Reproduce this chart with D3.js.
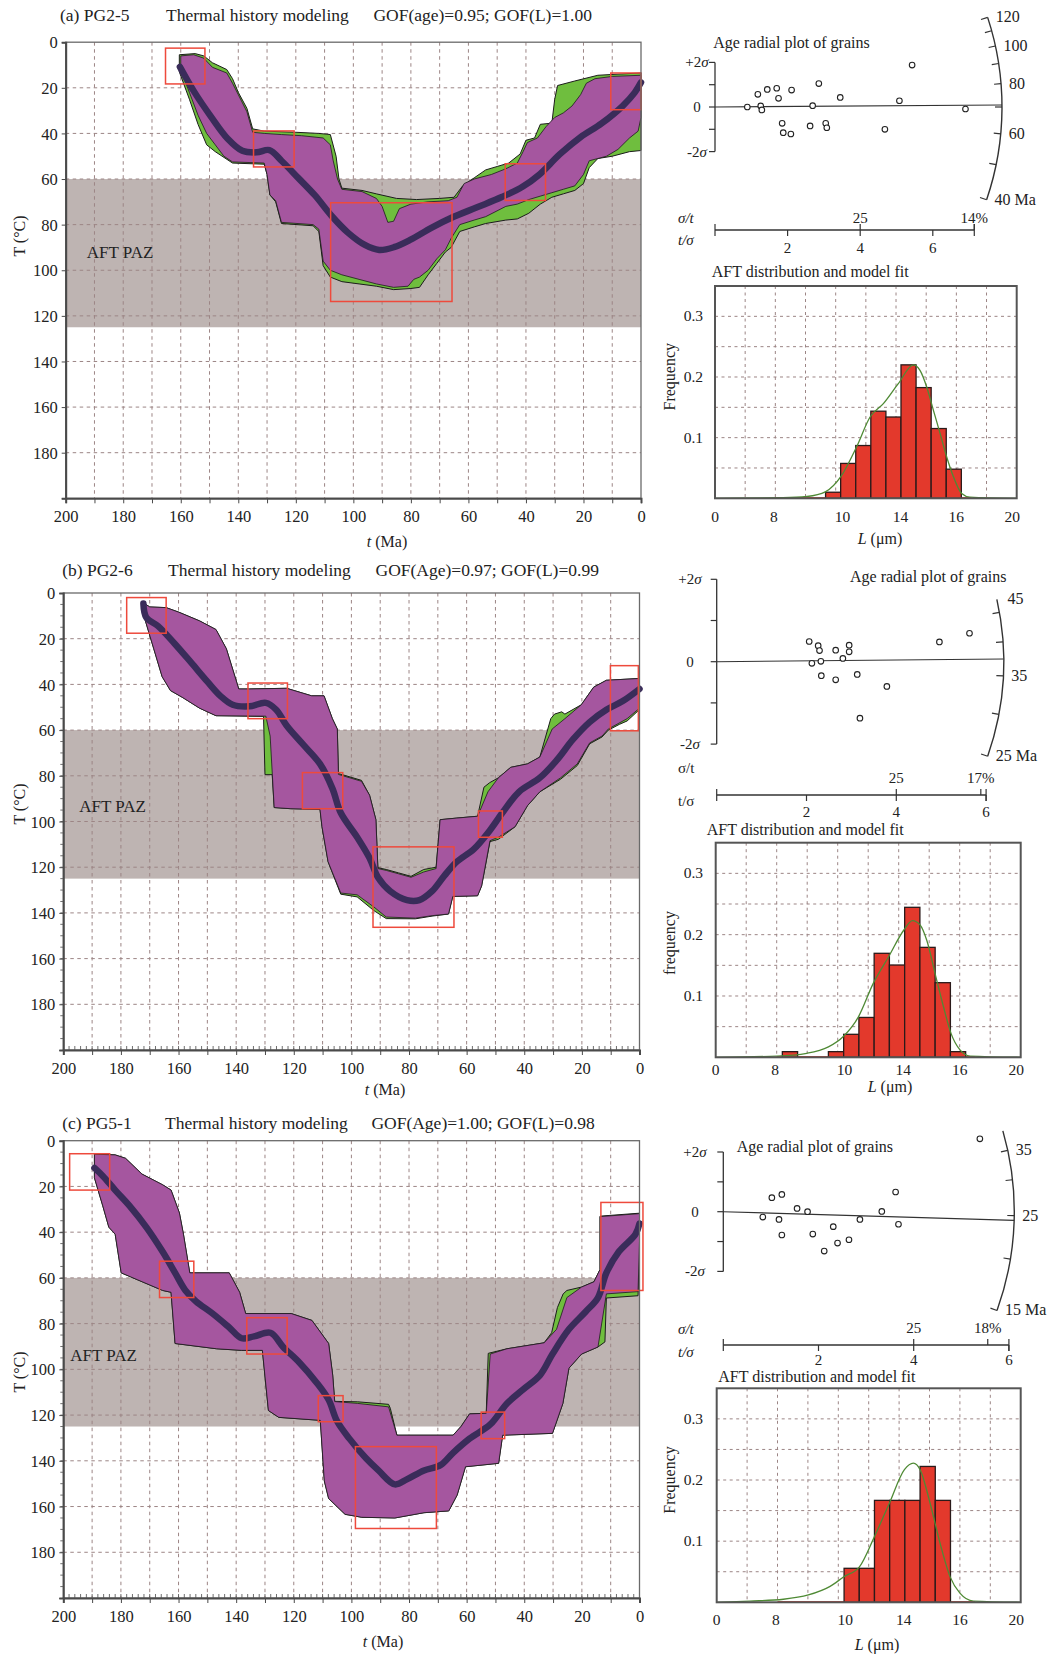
<!DOCTYPE html>
<html><head><meta charset="utf-8">
<script src="https://cdn.jsdelivr.net/npm/d3@7"></script>
<style>
body{margin:0;background:#fff}
svg{display:block}
text{font-family:"Liberation Serif","Times New Roman",serif;fill:#222}
</style></head>
<body><svg id="chart" width="1051" height="1654"></svg>
<script>
// ======================= DATA =======================
const pazRange = [60, 125];
const timeTickLabels = [200, 180, 160, 140, 120, 100, 80, 60, 40, 20, 0];
const tempTickLabels = [0, 20, 40, 60, 80, 100, 120, 140, 160, 180];

// ---- (a) PG2-5 thermal history: [t (Ma), T (°C)] ----
const bestA = [[160.3,10.8],[155.2,22],[149.5,32.6],[143.7,42.3],[138.6,47.6],[133.6,48.3],[129.2,47.3],[124.9,52.1],[119.1,59.6],[113.4,67.1],[107.6,76.1],[101.8,83.6],[96,88.9],[91,91.1],[85.9,89.9],[80.1,86.6],[72.9,81.4],[65.7,76.9],[57,72.4],[48.4,67.9],[41.2,63.4],[35.4,58.1],[28.2,49.1],[21,41.6],[13.7,35.6],[6.5,28.1],[2.2,22.1],[0,17.6]];
const goodUpperA = [[160,6],[155.5,5.5],[152,7],[149,11],[144,13.5],[142,18],[140,23],[137,30.5],[135,39.5],[131,40],[125,40.5],[118,41],[110.5,42],[108,45],[107,52],[105.5,60],[104,64.5],[97,65.5],[92,68.5],[90,72],[88,79],[86,78.5],[84,73],[80,71],[74,70],[67,69.5],[64,68],[61.5,62],[58,60],[52,58],[47,55.5],[43,53],[41,48],[39.5,44],[36,42],[33,37],[30,33],[27,31],[24,28],[21,23],[19,18],[16,16],[10,15],[0,14.5]];
const goodLowerA = [[160,12],[157,22],[154,32],[151,40],[148,45],[145,50],[142,52.5],[131,53],[130,58],[129,67],[127,69.5],[125,79],[114,80],[112,82],[110.5,96],[108,100],[104,102],[98,104],[92,106],[86,107.5],[81,107],[79,104],[77,103],[74,100],[71,95],[68,91],[66,86],[63,80],[58,78],[54,76.5],[47,72],[43,71],[39,69],[35,67.5],[31,66],[27,64.5],[23,63],[20,58],[18,52],[12,50],[8,47],[4,42],[1,39],[0,33]];
const accUpperA = [[160.5,5.5],[155,5],[152,6],[149,9],[144,12],[142,16],[140,22],[137,29],[135,38],[131,39],[120,39.5],[112,40],[108,40.5],[106,50],[105,60],[104,64],[97,65],[92,66.5],[85,68.5],[78,69],[70,68.5],[65,68],[62,63],[58,59.5],[54,56],[50,54.5],[46,53],[42,49],[40,43],[37,42],[35,36],[31,35.5],[30,25],[29,19],[23,17],[15,14.5],[8,14],[0,13.5]];
const accLowerA = [[160.5,13],[157,25],[154,36],[151,45],[148,48],[142,53],[131,53.5],[130,58],[129,67],[127,70],[125,79.5],[114,80.5],[112,83],[110.5,98],[108,103],[104,105],[98,106],[92,107],[86,108.5],[80,108],[77,107.5],[74,102],[71,97],[68,92],[66,90],[63,83],[58,81],[54,79.5],[47,78],[43,77.5],[39,75],[35,71],[31,68],[27,66.5],[23,65],[20,62],[18,55],[15,51],[10,50],[4,48],[0,47.5]];
const boxesA = [[165.3,151.6,2.6,18.3],[134.7,120.6,38.9,54.7],[107.9,65.7,70.4,113.7],[47.2,33.2,53.3,69.4],[10.5,0,13.5,29.6]];

// ---- (b) PG2-6 ----
const bestB = [[172.2,4.6],[171.2,10.7],[167.1,14.5],[161.4,22.1],[155.6,30.5],[149.9,38.9],[145.5,45],[141.2,48.9],[135.4,49.6],[129.7,48.1],[126.1,51.1],[122.5,58],[116.7,66.4],[110.9,74.8],[106.6,85.5],[103.7,96.2],[98,106.9],[93.7,116],[90.8,124.4],[86.5,130.5],[80.7,134.4],[76.4,134.4],[72,130.5],[67.7,123.7],[63.4,117.6],[57.6,112.2],[51.9,103.8],[47.6,96.2],[41.8,87],[34.6,80.9],[28.8,73.3],[23.1,64.1],[17.3,56.5],[11.5,51.1],[5.8,47.3],[0,42]];
const goodUpperB = [[172.2,4.3],[170,6.1],[164.3,6.4],[159.9,8.4],[152.7,12.2],[147,16],[143.4,24.4],[139.1,42],[135.4,42],[122.5,41.7],[113.8,45],[109.5,45],[106.6,55],[104.9,59.5],[104.5,79.4],[96.5,82.4],[93.7,88.5],[91.5,99.2],[90.8,120.6],[87.9,121.4],[83.6,122.9],[79.3,124.4],[74.9,122.1],[70.6,120.6],[69.2,99.2],[63.4,98.5],[56.2,97.7],[52.6,87],[49,80.9],[44.7,76.3],[38.9,74.8],[34.6,71.8],[30.3,59.5],[25.9,55],[20.2,48.9],[15.9,41.2],[11.5,38.2],[0,37.4]];
const goodLowerB = [[171.5,12.2],[168.6,24.4],[165.7,36.6],[162.8,42.7],[158.5,45.8],[152.7,50.4],[147,53.7],[129.7,53.9],[128.2,62.6],[126.8,93.9],[121,94.4],[110.9,94.7],[110.2,102.3],[108.1,117.6],[103.7,131.3],[98,132.1],[92.2,137.4],[87.9,141.8],[77.8,142.3],[72,141.2],[66.3,140.5],[64.8,132.8],[56.2,132.5],[54.8,128.2],[51.9,108.4],[49,106.9],[43.2,102.3],[38.9,93.1],[34.6,87],[27.4,80.9],[21.6,74.8],[17.3,65.6],[13,62.6],[10.8,59.5],[4.3,55],[0,50.4]];
const accUpperB = [[172.2,4.3],[170,6.1],[164.3,6.4],[159.9,8.4],[152.7,12.2],[147,16],[143.4,24.4],[139.1,42],[135.4,42],[122.5,41.7],[113.8,45],[109.5,45],[106.6,55],[104.9,59.5],[104.5,79],[96.5,82],[93.7,88.5],[91.5,99.2],[90.8,120.2],[87.9,121],[83.6,122.5],[79.3,124],[74.9,121],[70.6,120],[69.2,99.2],[63.4,98.5],[56.2,97.7],[54,85],[52,83],[49,80.9],[44.7,76.3],[38.9,74.8],[34.6,71.8],[30.8,55],[29.5,53],[27,52],[25.9,53],[20.2,48.9],[15.9,41.2],[11.5,38.2],[0,37.4]];
const accLowerB = [[171.5,12.2],[168.6,24.4],[165.7,36.6],[162.8,42.7],[158.5,45.8],[152.7,50.4],[147,53.7],[130.5,54],[130,79.5],[127.5,79.5],[126.8,93.9],[121,94.4],[110.9,94.7],[110.2,102.3],[108.1,117.6],[103.7,131.8],[98,133],[92.2,139],[87.9,142.5],[77.8,142.6],[72,141.4],[66.3,140.5],[64.8,132.8],[56.2,132.5],[54.8,128.2],[51.9,108.8],[49,107.8],[43.2,102.3],[38.9,93.1],[34.6,87],[27.4,81.5],[21.6,75.5],[17.3,66],[13,63],[10.8,60],[7,57.5],[4.3,56],[0,51]];
const boxesB = [[178,164.3,2,17.6],[135.9,122.2,39.4,55],[117,103,78.6,94.4],[92.5,64.4,111.1,146.3],[55.9,47.6,95.4,106.9],[10.1,0.4,31.8,60.3]];

// ---- (c) PG5-1 ----
const bestC = [[189.2,11.9],[186.3,15.4],[182,21.6],[177,28.5],[171.2,37.8],[165.5,48.6],[161.2,57.8],[157.6,65.5],[154,70.2],[148.2,75.6],[142.4,81.7],[138.1,86.4],[133.8,85.6],[128.1,84],[123.7,90.2],[118,97.1],[112.2,105.6],[107.9,113.3],[105,122.6],[100.7,130.3],[95,138.8],[90.6,144.2],[84.9,150.3],[80.6,148],[74.8,144.2],[69.1,141.9],[64.7,136.5],[59,130.3],[51.8,124.1],[46,114.9],[40.3,108.7],[34.5,102.5],[30.2,93.3],[24.5,82.5],[18.7,74.8],[14.4,68.6],[11.5,57.8],[7.2,48.6],[1.4,40.9],[0,36.2]];
const goodUpperC = [[189.2,5.9],[182,6.2],[178.4,7.7],[172.7,14.6],[165.5,19.3],[162.6,21.6],[159.7,31.6],[158.3,40.9],[156.1,57.8],[142.4,57.8],[138.8,66.3],[136.7,75.6],[120.9,75.6],[113.7,78.6],[107.9,88.7],[106.5,102.5],[105.8,114.1],[97.8,114.9],[87.1,116.4],[84.2,128.8],[64.7,128.8],[61.9,124.9],[59,119.5],[53.2,119.2],[51.8,93.3],[46,91],[33.1,88.4],[28.8,82.5],[25.2,68.6],[20.1,64],[15.8,61.7],[13.7,56.3],[13.7,33.2],[0,31.9]];
const goodLowerC = [[189.2,16.2],[186.3,28.5],[184.2,37.8],[182,40.9],[179.9,57.8],[174.1,60.9],[165.5,65.5],[162.6,66.3],[161.2,88.7],[146.8,91],[138.1,91.7],[130.9,91.7],[128.8,118],[125.2,121],[110.8,122.3],[109.4,148.8],[107.9,156.5],[102.2,163.4],[96.4,164.7],[84.9,165],[74.8,162.7],[66.2,161.9],[63.3,155],[60.4,142.6],[48.9,141.1],[47.5,128.8],[30.2,128],[26.6,114.9],[24.5,99.5],[20.1,93.3],[14.4,90.2],[11.5,67],[0.5,66],[0,44]];
const accUpperC = [[189.2,5.9],[182,6.2],[178.4,7.7],[172.7,14.6],[165.5,19.3],[162.6,21.6],[159.7,31.6],[158.3,40.9],[156.1,57.8],[142.4,57.8],[138.8,66.3],[136.7,75.6],[120.9,75.6],[113.7,78.6],[107.9,88.7],[106.5,102.5],[105.8,114],[97.8,114.2],[87.1,115.3],[86.5,117],[84.2,128.8],[64.7,128.8],[61.9,124.9],[59,119.5],[53.2,119.2],[52.5,93],[46,91],[33.1,88.4],[30.5,84],[28.5,73],[26.5,67],[25.2,65.5],[20.1,64],[15.8,61.7],[13.7,56.3],[13.7,33],[0,31.7]];
const accLowerC = [[189.2,16.2],[186.3,28.5],[184.2,37.8],[182,40.9],[179.9,57.8],[174.1,60.9],[165.5,65.5],[162.6,66.3],[161.2,88.7],[146.8,91],[138.1,91.7],[130.9,91.7],[128.8,118],[125.2,121],[110.8,122.3],[109.4,148.8],[107.9,156.5],[102.2,163.4],[96.4,164.7],[84.9,165],[74.8,162.7],[66.2,161.9],[63.3,155],[60.4,142.6],[48.9,141.1],[47.5,128.8],[30.2,128],[26.6,114.9],[24.5,99.5],[20.1,93.3],[14.4,90.2],[12,88],[11.5,68.8],[0.5,67.8],[0,44]];
const boxesC = [[197.8,183.9,5.7,21.6],[166.6,154.7,52.7,68.6],[136.3,122.3,77.4,93.3],[111.5,102.9,111.5,122.9],[98.6,70.5,133.8,169.6],[54.96,46.8,118.7,130.3],[13.4,-1.2,27,65.5]];

// ---- radial plots: grains [t/σ, standardized estimate (σ)] ----
const grainsA = [[0.89,0],[1.18,0.57],[1.26,0.05],[1.29,-0.13],[1.44,0.79],[1.70,0.84],[1.75,0.39],[1.85,-0.73],[1.88,-1.15],[2.11,0.76],[2.09,-1.21],[2.69,0.06],[2.62,-0.85],[2.86,1.05],[3.05,-0.73],[3.08,-0.93],[3.45,0.43],[4.68,-1.0],[5.08,0.28],[5.43,1.88],[6.90,-0.09]];
const grainsB = [[2.06,0.49],[2.26,0.39],[2.29,0.27],[2.12,-0.04],[2.32,0.01],[2.33,-0.34],[2.65,0.28],[2.81,0.08],[2.65,-0.44],[2.95,0.40],[2.95,0.24],[3.13,-0.31],[3.19,-1.37],[3.79,-0.60],[4.96,0.48],[5.63,0.69]];
const grainsC = [[0.83,-0.18],[1.02,0.47],[1.17,-0.26],[1.23,0.58],[1.23,-0.78],[1.55,0.11],[1.77,0],[1.88,-0.75],[2.12,-1.32],[2.31,-0.50],[2.40,-1.05],[2.64,-0.94],[2.87,-0.26],[3.33,0.01],[3.62,0.66],[3.68,-0.42],[5.39,2.44]];
const arcAgesA = [40, 50, 60, 70, 80, 90, 100, 110, 120];
const arcLabelsA = [[120, '120'], [100, '100'], [80, '80'], [60, '60'], [40, '40 Ma']];
const arcAgesB = [25, 30, 35, 40, 45];
const arcLabelsB = [[45, '45'], [35, '35'], [25, '25 Ma']];
const arcAgesC = [15, 20, 25, 30, 35];
const arcLabelsC = [[35, '35'], [25, '25'], [15, '15 Ma']];
const sigmaTicks = [-2, -1, 0, 1, 2];
const sigmaLabels = [[2, '+2'], [0, '0'], [-2, '-2']];
const precisionTicks = [2, 4, 6];
const relErrA = [[0.25, '25'], [0.14, '14%']];
const relErrB = [[0.25, '25'], [0.17, '17%']];
const relErrC = [[0.25, '25'], [0.18, '18%']];

// ---- track length histograms ----
const binStartA = [7.33, 8.33, 9.33, 10.33, 11.33, 12.33, 13.33, 14.33, 15.33];
const freqA = [0.010, 0.0575, 0.087, 0.1436, 0.134, 0.220, 0.1825, 0.115, 0.048];
const binStartB = [4.37, 7.39, 8.39, 9.39, 10.39, 11.39, 12.39, 13.39, 14.39, 15.39];
const freqB = [0.0092, 0.0092, 0.0375, 0.065, 0.1696, 0.1505, 0.2446, 0.1793, 0.1217, 0.0092];
const binStartC = [8.38, 9.38, 10.38, 11.38, 12.38, 13.38, 14.38];
const freqC = [0.0556, 0.0556, 0.1667, 0.1667, 0.1667, 0.2222, 0.1667];
const fitA = [[0,0],[4.5,0.001],[6.1,0.003],[7.34,0.011],[8.35,0.036],[9.39,0.085],[10.28,0.134],[11.16,0.156],[12.15,0.189],[13.15,0.220],[13.59,0.211],[14.03,0.184],[14.48,0.145],[14.92,0.107],[15.36,0.068],[15.8,0.036],[16.35,0.008],[16.9,0.002],[20,0]];
const fitB = [[0,0],[4,0.002],[5.97,0.0065],[7.39,0.017],[8.37,0.034],[9.36,0.066],[10.34,0.121],[11.34,0.164],[12.35,0.208],[12.9,0.223],[13.4,0.216],[13.84,0.191],[14.43,0.132],[14.93,0.083],[15.43,0.039],[16.02,0.012],[16.68,0.002],[20,0]];
const fitC = [[0,0],[2.19,0.002],[4.39,0.005],[6.03,0.012],[7.46,0.026],[8.38,0.042],[9.39,0.058],[10.37,0.107],[11.36,0.162],[12.35,0.217],[12.94,0.2275],[13.38,0.217],[14.04,0.162],[14.69,0.097],[15.35,0.042],[16,0.015],[16.89,0.002],[20,0]];
const lenTickPos = [0, 3.9, 8.45, 12.3, 16, 19.7];
const lenTickText = ['0', '8', '10', '14', '16', '20'];
const freqTicks = [0.1, 0.2, 0.3];

// ======================= DRAWING =======================
const svg = d3.select('#chart');
const C = {paz:'#beb4b2', grid:'#9c8585', purple:'#a5569f', green:'#6fbe3e', best:'#3a2c5a', red:'#ee4a3c', axis:'#4a4a4a', bar:'#e3392c'};

function txt(g, x, y, s, size, anchor) {
  return g.append('text').attr('x', x).attr('y', y).attr('font-size', size)
    .attr('text-anchor', anchor || 'start').text(s);
}
function rich(g, x, y, parts, size, anchor) {
  const t = g.append('text').attr('x', x).attr('y', y).attr('font-size', size).attr('text-anchor', anchor || 'start');
  parts.forEach(p => t.append('tspan').attr('font-style', p[1] ? 'italic' : 'normal').text(p[0]));
  return t;
}

function thermal(p) {
  const g = svg.append('g');
  const b = p.box;
  const x = d3.scaleLinear().domain([200, 0]).range([b.l, b.r]);
  const y = d3.scaleLinear().domain([0, 200]).range([b.t, b.b]);
  g.append('rect').attr('x', x(200)).attr('y', y(pazRange[0])).attr('width', x(0) - x(200))
    .attr('height', y(pazRange[1]) - y(pazRange[0])).attr('fill', C.paz);
  const grid = g.append('g').attr('stroke', C.grid).attr('stroke-width', 1).attr('stroke-dasharray', '3.5,3.5');
  d3.range(190, 0, -10).forEach(t => grid.append('line').attr('x1', x(t)).attr('x2', x(t)).attr('y1', y(0)).attr('y2', y(200)));
  d3.range(20, 200, 20).forEach(T => grid.append('line').attr('x1', x(200)).attr('x2', x(0)).attr('y1', y(T)).attr('y2', y(T)));
  txt(g, b.l + p.pazDx, y(p.pazT), 'AFT PAZ', 17);

  const ln = d3.line().x(d => x(d[0])).y(d => y(d[1]));
  const poly = (u, l) => ln(u.concat(l.slice().reverse())) + 'Z';
  g.append('path').attr('d', poly(p.accU, p.accL)).attr('fill', C.green).attr('stroke', '#1c1c1c').attr('stroke-width', 1);
  g.append('path').attr('d', poly(p.goodU, p.goodL)).attr('fill', C.purple).attr('stroke', '#1c1c1c').attr('stroke-width', 0.8);
  g.append('path').attr('d', d3.line().x(d => x(d[0])).y(d => y(d[1])).curve(d3.curveCatmullRom)(p.best))
    .attr('fill', 'none').attr('stroke', C.best).attr('stroke-width', 6.5).attr('stroke-linecap', 'round').attr('stroke-linejoin', 'round');
  p.boxes.forEach(d => g.append('rect').attr('x', x(d[0])).attr('y', y(d[2])).attr('width', x(d[1]) - x(d[0]))
    .attr('height', y(d[3]) - y(d[2])).attr('fill', 'none').attr('stroke', C.red).attr('stroke-width', 1.5));

  if (p.minor) {
    const mg = g.append('g').attr('stroke', C.axis).attr('stroke-width', 0.8);
    d3.range(2, 200, 2).forEach(t => mg.append('line').attr('x1', x(t)).attr('x2', x(t)).attr('y1', b.b).attr('y2', b.b - 4));
    d3.range(5, 200, 5).forEach(T => mg.append('line').attr('x1', b.l).attr('x2', b.l - 3).attr('y1', y(T)).attr('y2', y(T)));
  }
  g.append('rect').attr('x', b.l).attr('y', b.t).attr('width', b.r - b.l).attr('height', b.b - b.t)
    .attr('fill', 'none').attr('stroke', '#6a6a6a').attr('stroke-width', 1.3);

  const ax = g.append('g').attr('transform', `translate(0,${b.b})`)
    .call(d3.axisBottom(x).tickValues(d3.range(0, 201, 10)).tickFormat(d => timeTickLabels.includes(d) ? d : '').tickSize(5).tickPadding(7));
  const ay = g.append('g').attr('transform', `translate(${b.l},0)`)
    .call(d3.axisLeft(y).tickValues(tempTickLabels.concat([200])).tickFormat(d => tempTickLabels.includes(d) ? d : '').tickSize(4).tickPadding(4));
  [ax, ay].forEach(a => {
    a.select('.domain').attr('stroke', C.axis).attr('stroke-width', 2);
    a.selectAll('line').attr('stroke', C.axis);
    a.selectAll('text').attr('font-size', 16.5).attr('fill', '#222')
      .attr('font-family', '"Liberation Serif","Times New Roman",serif');
  });
  ay.selectAll('text').attr('dy', '0.34em');

  txt(g, p.titleX[0], p.titleY, p.title[0], 17.5);
  txt(g, p.titleX[1], p.titleY, 'Thermal history modeling', 17.5);
  txt(g, p.titleX[2], p.titleY, p.title[1], 17.5);
  rich(g, p.xlab[0], p.xlab[1], [['t', true], [' (Ma)', false]], 16, 'middle');
  txt(g, 0, 0, 'T (°C)', 16, 'middle').attr('transform', `translate(${p.ylab[0]},${p.ylab[1]}) rotate(-90)`);
}

function radial(p) {
  const g = svg.append('g');
  const xs = d3.scaleLinear().domain([0, 1]).range([p.ox, p.ox + p.ux]);
  const ys = d3.scaleLinear().domain([0, 1]).range([p.oy, p.oy - p.uy]);
  const slope = d3.scaleLog().domain([p.t0, p.t0 * Math.E]).range([0, p.k]);
  const ang = t => Math.atan(slope(t));
  const at = (t, r) => [p.ox + r * Math.cos(ang(t)), p.oy - r * Math.sin(ang(t))];

  txt(g, p.title[0], p.title[1], 'Age radial plot of grains', 16);
  // arc
  const pa = d3.path();
  pa.arc(p.ox, p.oy, p.R, -ang(p.arcMax), -ang(p.arcMin));
  g.append('path').attr('d', pa.toString()).attr('fill', 'none').attr('stroke', '#333').attr('stroke-width', 1.4);
  p.arcAges.forEach(t => {
    const a = at(t, p.R), c = at(t, p.R - 7);
    g.append('line').attr('x1', a[0]).attr('y1', a[1]).attr('x2', c[0]).attr('y2', c[1]).attr('stroke', '#333').attr('stroke-width', 1.2);
  });
  p.arcLabels.forEach(d => {
    const a = at(d[0], p.R);
    const nudge = (p.nudge && p.nudge[d[0]]) || 0;
    txt(g, a[0] + 8, a[1] + 5 + nudge, d[1], 16);
  });
  // central age line
  const e = at(p.central, p.R);
  g.append('line').attr('x1', p.ox).attr('y1', p.oy).attr('x2', e[0]).attr('y2', e[1]).attr('stroke', '#333').attr('stroke-width', 1.1);
  // sigma axis
  g.append('line').attr('x1', p.ox).attr('x2', p.ox).attr('y1', ys(2)).attr('y2', ys(-2)).attr('stroke', '#333').attr('stroke-width', 1.3);
  sigmaTicks.forEach(s => g.append('line').attr('x1', p.ox).attr('x2', p.ox - 6).attr('y1', ys(s)).attr('y2', ys(s)).attr('stroke', '#333').attr('stroke-width', 1.2));
  sigmaLabels.forEach(d => {
    if (d[1] === '0') txt(g, p.sigX, ys(d[0]) + 5, '0', 15, 'middle');
    else rich(g, p.sigX, ys(d[0]) + 5, [[d[1], false], ['σ', true]], 15, 'middle');
  });
  // grains
  g.selectAll('circle.gr').data(p.grains).enter().append('circle')
    .attr('cx', d => xs(d[0])).attr('cy', d => ys(d[1])).attr('r', 2.8)
    .attr('fill', '#fff').attr('stroke', '#222').attr('stroke-width', 1.1);
  // precision axis
  const ay = p.axY;
  const axMax = 1 / p.relErr[p.relErr.length - 1][0] > p.axMax ? 1 / p.relErr[p.relErr.length - 1][0] : p.axMax;
  g.append('line').attr('x1', xs(0)).attr('x2', xs(axMax)).attr('y1', ay).attr('y2', ay).attr('stroke', '#333').attr('stroke-width', 1.3);
  [0, axMax].forEach(v => g.append('line').attr('x1', xs(v)).attr('x2', xs(v)).attr('y1', ay - 6).attr('y2', ay + 6).attr('stroke', '#333').attr('stroke-width', 1.2));
  precisionTicks.forEach(v => {
    g.append('line').attr('x1', xs(v)).attr('x2', xs(v)).attr('y1', ay).attr('y2', ay + 6).attr('stroke', '#333').attr('stroke-width', 1.2);
    txt(g, xs(v), ay + p.numDy, String(v), 15, 'middle');
  });
  p.relErr.forEach(d => {
    g.append('line').attr('x1', xs(1 / d[0])).attr('x2', xs(1 / d[0])).attr('y1', ay - 6).attr('y2', ay).attr('stroke', '#333').attr('stroke-width', 1.2);
    txt(g, xs(1 / d[0]), ay + p.pctDy, d[1], 15, 'middle');
  });
  rich(g, 678, ay + p.sigtDy, [['σ/t', p.italic]], 15);
  rich(g, 678, ay + p.tsigDy, [['t/σ', p.italic]], 15);
}

function histogram(p) {
  const g = svg.append('g');
  const b = p.box;
  const x = d3.scaleLinear().domain([0, 20]).range([b.l, b.r]);
  const y = d3.scaleLinear().domain([0, 0.35]).range([b.b, b.t]);
  const grid = g.append('g').attr('stroke', C.grid).attr('stroke-width', 1).attr('stroke-dasharray', '3,3.5');
  d3.range(2, 20, 2).forEach(v => grid.append('line').attr('x1', x(v)).attr('x2', x(v)).attr('y1', b.t).attr('y2', b.b));
  d3.range(0.05, 0.34, 0.05).forEach(v => grid.append('line').attr('x1', b.l).attr('x2', b.r).attr('y1', y(v)).attr('y2', y(v)));
  g.append('line').attr('x1', x(4)).attr('x2', x(17)).attr('y1', b.b - 0.5).attr('y2', b.b - 0.5).attr('stroke', '#d84a3c').attr('stroke-width', 1.5);
  p.starts.forEach((s, i) => g.append('rect').attr('x', x(s)).attr('y', y(p.freq[i]))
    .attr('width', x(s + 1) - x(s)).attr('height', y(0) - y(p.freq[i]))
    .attr('fill', C.bar).attr('stroke', '#2a1a1a').attr('stroke-width', 1.3));
  g.append('path').attr('d', d3.line().x(d => x(d[0])).y(d => y(d[1])).curve(d3.curveMonotoneX)(p.fit))
    .attr('fill', 'none').attr('stroke', '#4f8a35').attr('stroke-width', 1.3);
  g.append('rect').attr('x', b.l).attr('y', b.t).attr('width', b.r - b.l).attr('height', b.b - b.t)
    .attr('fill', 'none').attr('stroke', '#555').attr('stroke-width', 2);
  freqTicks.forEach(v => txt(g, 703, y(v) + 5, String(v), 15.5, 'end'));
  lenTickPos.forEach((v, i) => txt(g, x(v), b.b + p.tickDy, lenTickText[i], 15.5, 'middle'));
  txt(g, p.title[0], p.title[1], 'AFT distribution and model fit', 16);
  txt(g, 0, 0, p.ylabel, 16, 'middle').attr('transform', `translate(${675},${p.ylabY}) rotate(-90)`);
  rich(g, p.xlab[0], p.xlab[1], [['L', true], [' (μm)', false]], 16, 'middle');
}

// ---------- layout ----------
thermal({box:{l:65.7, r:641, t:42.2, b:498.3}, title:['(a) PG2-5', 'GOF(age)=0.95; GOF(L)=1.00'], titleX:[60, 166, 373.4], titleY:21,
  xlab:[387, 547], ylab:[25, 236], pazDx:21, pazT:94.5, minor:false,
  best:bestA, goodU:goodUpperA, goodL:goodLowerA, accU:accUpperA, accL:accLowerA, boxes:boxesA});
thermal({box:{l:63.3, r:639.5, t:593, b:1050}, title:['(b) PG2-6', 'GOF(Age)=0.97; GOF(L)=0.99'], titleX:[62.2, 168, 375.5], titleY:576,
  xlab:[385, 1095], ylab:[25, 804], pazDx:16, pazT:96, minor:true,
  best:bestB, goodU:goodUpperB, goodL:goodLowerB, accU:accUpperB, accL:accLowerB, boxes:boxesB});
thermal({box:{l:63.3, r:639.5, t:1140.7, b:1598}, title:['(c) PG5-1', 'GOF(Age)=1.00; GOF(L)=0.98'], titleX:[62.2, 165, 371.4], titleY:1128.5,
  xlab:[383, 1647], ylab:[25, 1372], pazDx:7, pazT:96.5, minor:true,
  best:bestC, goodU:goodUpperC, goodL:goodLowerC, accU:accUpperC, accL:accLowerC, boxes:boxesC});

radial({ox:715, oy:107, ux:36.3, uy:22.3, R:287, t0:70, k:0.61, arcMin:40, arcMax:120, arcAges:arcAgesA, arcLabels:arcLabelsA,
  central:70.8, grains:grainsA, axY:230, axMax:6, relErr:relErrA, title:[713.3, 48], sigX:697, italic:true,
  numDy:23, pctDy:-7, sigtDy:-7, tsigDy:15});
radial({ox:716.7, oy:661.7, ux:44.9, uy:41.2, R:287, t0:37, k:0.89, arcMin:25, arcMax:47.5, arcAges:arcAgesB, arcLabels:arcLabelsB,
  nudge:{45:-13}, central:37.4, grains:grainsB, axY:795, axMax:6, relErr:relErrB, title:[850, 582], sigX:690, italic:false,
  numDy:22, pctDy:-12, sigtDy:-22, tsigDy:11});
radial({ox:723.3, oy:1211.7, ux:47.6, uy:29.85, R:291, t0:25.5, k:0.68, arcMin:15, arcMax:39, arcAges:arcAgesC, arcLabels:arcLabelsC,
  central:24.4, grains:grainsC, axY:1345, axMax:6, relErr:relErrC, title:[736.7, 1152], sigX:695, italic:true,
  numDy:20, pctDy:-12, sigtDy:-11, tsigDy:12});

histogram({box:{l:715, r:1016.7, t:286, b:498.3}, starts:binStartA, freq:freqA, fit:fitA, tickDy:24,
  title:[711.7, 277], ylabel:'Frequency', ylabY:376.7, xlab:[880, 544]});
histogram({box:{l:715.7, r:1020.7, t:842.7, b:1057.3}, starts:binStartB, freq:freqB, fit:fitB, tickDy:18,
  title:[706.7, 835], ylabel:'frequency', ylabY:943, xlab:[890, 1092]});
histogram({box:{l:716.7, r:1020.7, t:1388.3, b:1602.3}, starts:binStartC, freq:freqC, fit:fitC, tickDy:23,
  title:[718.3, 1382], ylabel:'Frequency', ylabY:1480, xlab:[877, 1650]});
</script></body></html>
